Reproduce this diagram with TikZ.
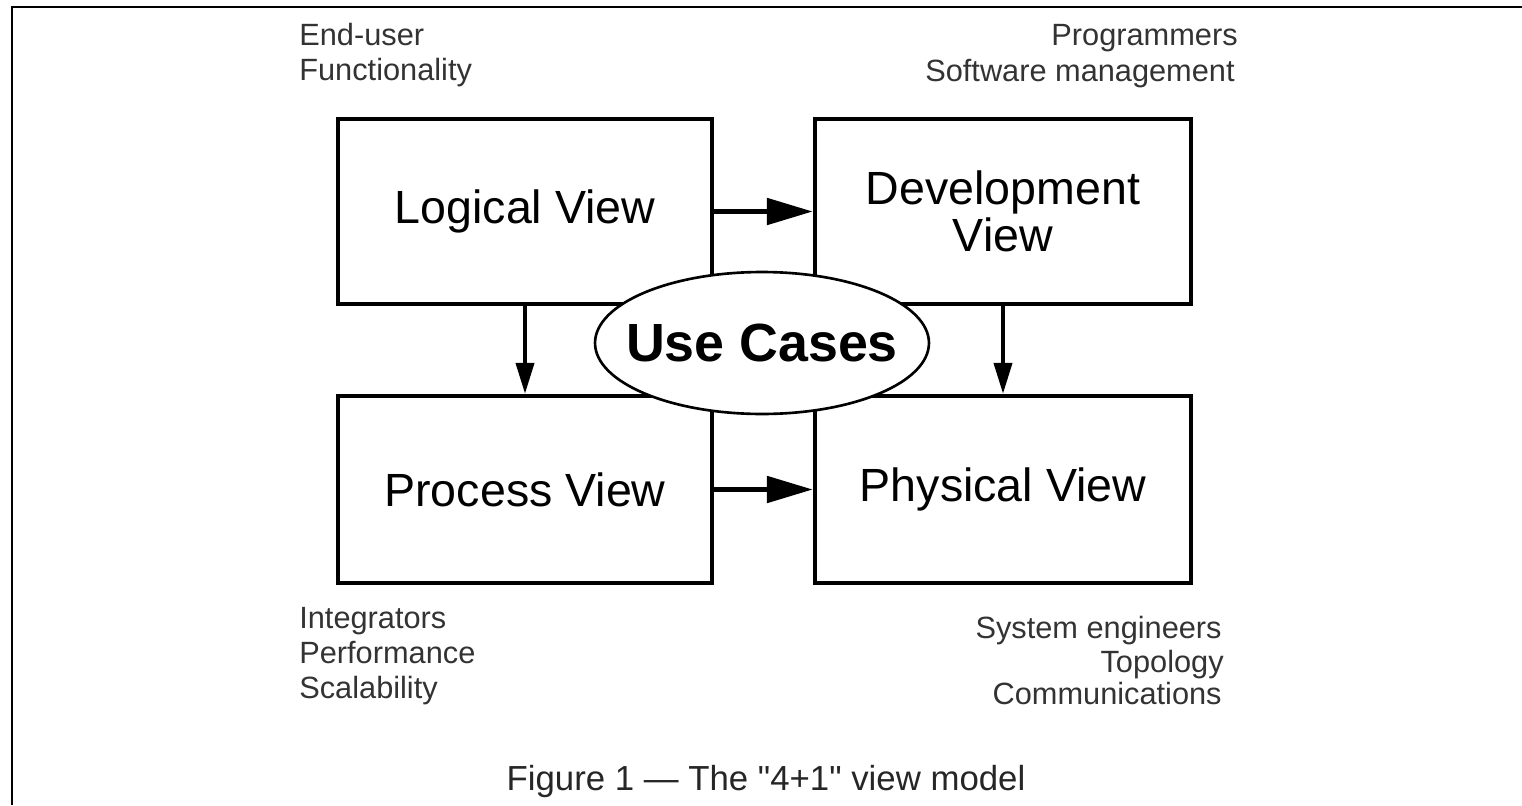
\documentclass[tikz,border=0pt]{standalone}
\usepackage{fontspec}
\setmainfont{Liberation Sans}
% plain family without TeX ligature mapping, so " stays a straight quote
\newfontfamily\capfont{Liberation Sans}
\usetikzlibrary{arrows.meta,shapes.geometric}

\begin{document}
\begin{tikzpicture}[x=0.02cm,y=-0.02cm,
  view/.style={draw, line width=2.5pt, inner sep=0pt, align=center,
    font=\fontsize{26.5}{27}\selectfont},
  usecase/.style={ellipse, draw, fill=white, line width=1.5pt, inner sep=0pt,
    minimum width=6.68cm, minimum height=2.84cm},
  uctext/.style={inner sep=0pt, font=\bfseries\fontsize{30.6}{32}\selectfont},
  harrow/.style={line width=3pt, -{Triangle[length=0.92cm,width=0.52cm]}},
  varrow/.style={line width=2.3pt, -{Triangle[length=0.62cm,width=0.36cm]}},
  concern/.style={inner sep=0pt, text=black!80, font=\fontsize{17.5}{20}\selectfont},
  frame/.style={line width=1.7pt}]

\useasboundingbox (0,0) rectangle (1522,805);

% outer frame (left and top rules)
\coordinate (fbl) at (12,805);
\coordinate (ftl) at (12,7);
\coordinate (ftr) at (1522,7);
\draw[frame] (fbl) -- (ftl) -- (ftr);

% the four views
\node[view, minimum width=7.48cm, minimum height=3.70cm] (logical) at (525,211.5) {Logical View};
\node[view, minimum width=7.52cm, minimum height=3.70cm] (devel) at (1003,211.5) {Development\\View};
\node[view, minimum width=7.48cm, minimum height=3.74cm] (process) at (525,489.5) {Process View};
\node[view, minimum width=7.52cm, minimum height=3.74cm] (physical) at (1003,489.5) {Physical View};

% relations between views
\draw[harrow] (logical.east) -- (devel.west);
\draw[harrow] (process.east) -- (physical.west);
\draw[varrow] (logical.south) -- (process.north);
\draw[varrow] (devel.south) -- (physical.north);

% scenarios in the middle
\node[usecase] (usecases) at (762,343) {};
\node[uctext] (uclabel) at (usecases.center) {Use Cases};

% stakeholders and concerns
\node[concern, anchor=base west] (enduser) at (299,45) {End-user};
\node[concern, anchor=base west] (function) at (299,80) {Functionality};
\node[concern, anchor=base east] (programmers) at (1238,45) {Programmers};
\node[concern, anchor=base east] (swmgmt) at (1235,81) {Software management};

\node[concern, anchor=base west] (integrators) at (299,628) {Integrators};
\node[concern, anchor=base west] (performance) at (299,663) {Performance};
\node[concern, anchor=base west] (scalability) at (299,698) {Scalability};

\node[concern, anchor=base east] (syseng) at (1222,638) {System engineers};
\node[concern, anchor=base east] (topology) at (1224,672) {Topology};
\node[concern, anchor=base east] (comms) at (1222,704) {Communications};

% caption
\node[anchor=base, inner sep=0pt, text=black!85, font=\capfont\fontsize{19.8}{22}\selectfont] (caption) at (766,790)
  {Figure 1 — The "4+1" view model};
\end{tikzpicture}
\end{document}
